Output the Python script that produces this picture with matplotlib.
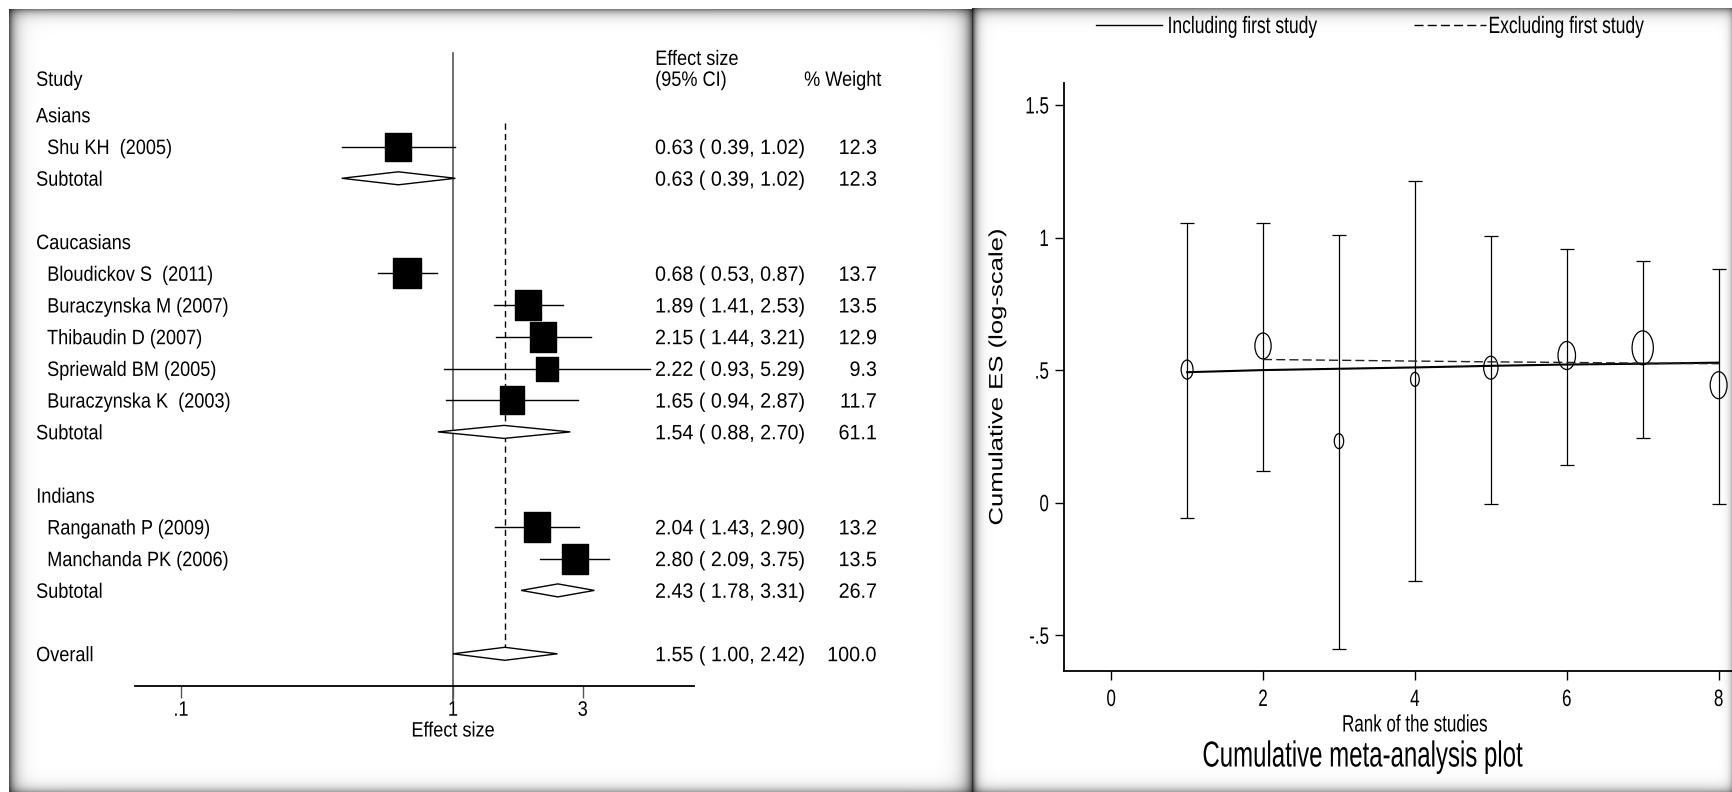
import numpy as np
import matplotlib
matplotlib.use("Agg")
import matplotlib.pyplot as plt
from matplotlib import patheffects
from matplotlib.path import Path
from matplotlib.markers import MarkerStyle
from matplotlib.lines import Line2D
from matplotlib.ticker import NullLocator
from matplotlib.transforms import Affine2D, blended_transform_factory

plt.rcParams["font.family"] = ["Liberation Sans", "DejaVu Sans"]

# forest plot: study-level and pooled odds ratios
groups = ["Asians", "Caucasians", "Indians"]
studies = ["Shu KH  (2005)", "Bloudickov S  (2011)", "Buraczynska M (2007)",
           "Thibaudin D (2007)", "Spriewald BM (2005)", "Buraczynska K  (2003)",
           "Ranganath P (2009)", "Manchanda PK (2006)"]
study_group = [0, 1, 1, 1, 1, 1, 2, 2]
es = [0.63, 0.68, 1.89, 2.15, 2.22, 1.65, 2.04, 2.80]
ci_lo = [0.39, 0.53, 1.41, 1.44, 0.93, 0.94, 1.43, 2.09]
ci_hi = [1.02, 0.87, 2.53, 3.21, 5.29, 2.87, 2.90, 3.75]
weight = [12.3, 13.7, 13.5, 12.9, 9.3, 11.7, 13.2, 13.5]
sub_es = [0.63, 1.54, 2.43]
sub_lo = [0.39, 0.88, 1.78]
sub_hi = [1.02, 2.70, 3.31]
sub_weight = [12.3, 61.1, 26.7]
overall_es, overall_lo, overall_hi, overall_weight = 1.55, 1.00, 2.42, 100.0

# cumulative meta-analysis (log ES by rank)
rank = [1, 2, 3, 4, 5, 6, 7, 8]
cum_es = [0.502, 0.591, 0.232, 0.465, 0.509, 0.555, 0.584, 0.443]
cum_lo = [-0.058, 0.120, -0.551, -0.296, -0.006, 0.141, 0.243, -0.004]
cum_hi = [1.055, 1.055, 1.010, 1.215, 1.006, 0.958, 0.913, 0.883]
cum_marker = [19, 26, 15, 14, 23, 28, 34, 27]
incl_fit = [0.492, 0.500, 0.505, 0.510, 0.516, 0.521, 0.524, 0.528]
excl_rank = [2, 3, 4, 5, 6, 7, 8]
excl_fit = [0.540, 0.537, 0.534, 0.531, 0.529, 0.526, 0.524]

W, H = 1732, 792
SX_LEFT = 0.87   # horizontal squeeze of text, forest panel
SX_NUM = 0.945   # numeric columns of the forest panel
SX_RIGHT = 0.72  # horizontal squeeze of text, cumulative panel


class Squeeze(patheffects.AbstractPathEffect):
    """Draw a text path narrower in x, about its left/centre/right edge."""

    def __init__(self, sx, anchor="center"):
        super().__init__()
        self.sx = sx
        self.anchor = anchor

    def draw_path(self, renderer, gc, tpath, affine, rgbFace=None):
        ext = tpath.get_extents(affine)
        x0 = {"left": ext.x0, "center": 0.5 * (ext.x0 + ext.x1), "right": ext.x1}[self.anchor]
        squeeze = Affine2D().translate(-x0, 0).scale(self.sx, 1).translate(x0, 0)
        renderer.draw_path(gc, tpath, affine + squeeze, rgbFace)


def squeeze(txt, sx, anchor="center"):
    txt.set_path_effects([Squeeze(sx, anchor)])
    return txt


def fx(px):
    return px / W


def fy(py):
    return 1 - py / H


fig = plt.figure(figsize=(W / 100, H / 100), dpi=100)

# panel frames with soft inner shadows
yy, xx = np.mgrid[0:H, 0:W].astype(float)
bg = np.ones((H, W))


def inner_shadow(x0, x1, y0, y1, top, left, right, bottom):
    inside = (xx >= x0) & (xx <= x1) & (yy >= y0) & (yy <= y1)
    shade = np.ones((H, W))
    for (depth, width), dist in [(top, yy - y0), (left, xx - x0),
                                 (right, x1 - xx), (bottom, y1 - yy)]:
        shade *= 1 - depth * np.exp(-np.clip(dist, 0, None) / width)
    bg[inside] = shade[inside]


inner_shadow(9, 971, 9, 791, top=(0.5, 5), left=(0.65, 6), right=(0.6, 7), bottom=(0.35, 5))
inner_shadow(972, 1731, 8, 791, top=(0.5, 5), left=(0.8, 4), right=(0.25, 3), bottom=(0.35, 5))

bg_ax = fig.add_axes([0, 0, 1, 1], zorder=-1)
bg_ax.imshow(bg, cmap="gray", vmin=0, vmax=1, aspect="auto", interpolation="nearest")
bg_ax.axis("off")

# ---------------- forest plot ----------------
ROW0, ROW_PX = 114.9, 31.7
ax1 = fig.add_axes([fx(135), fy(686), fx(694) - fx(135), fy(40) - fy(686)])
ax1.set_facecolor("none")
ax1.set_xscale("log")
ax1.set_xlim(0.0678, 7.69)
ax1.set_ylim((686 - ROW0) / ROW_PX, (40 - ROW0) / ROW_PX)

tx = blended_transform_factory(fig.transFigure, ax1.transData)
FS = 15
TEXT_DROP = 0.06  # rows; puts cap centres on the row line


def put(x_px, row, s, ha="left", sx=SX_LEFT):
    t = ax1.text(fx(x_px), row + TEXT_DROP, s, transform=tx, ha=ha, va="center", fontsize=FS)
    squeeze(t, sx, ha)


box = MarkerStyle(Path([(-1, -1.12), (1, -1.12), (1, 1.12), (-1, 1.12), (-1, -1.12)], closed=True))


def diamond(row, lo, mid, hi):
    ax1.fill([lo, mid, hi, mid], [row, row - 0.205, row, row + 0.205],
             facecolor="white", edgecolor="black", lw=1, zorder=3)


def es_text(e, lo, hi):
    return f"{e:.2f} ({lo:5.2f},{hi:5.2f})"


def stats(row, e, lo, hi, w):
    put(655, row, es_text(e, lo, hi), sx=SX_NUM)
    put(877, row, f"{w:.1f}", ha="right", sx=SX_NUM)


row = 0
for g, gname in enumerate(groups):
    put(36, row, gname)
    row += 1
    for i, sg in enumerate(study_group):
        if sg != g:
            continue
        ax1.plot([ci_lo[i], ci_hi[i]], [row, row], color="black", lw=1, zorder=2)
        ax1.plot(es[i], row, marker=box, ms=0.72 * 8.18 * np.sqrt(weight[i]),
                 color="black", ls="none", zorder=3)
        put(47, row, studies[i])
        stats(row, es[i], ci_lo[i], ci_hi[i], weight[i])
        row += 1
    diamond(row, sub_lo[g], sub_es[g], sub_hi[g])
    put(36, row, "Subtotal")
    stats(row, sub_es[g], sub_lo[g], sub_hi[g], sub_weight[g])
    row += 2

overall_row = row
diamond(overall_row, overall_lo, overall_es, overall_hi)
put(36, overall_row, "Overall")
stats(overall_row, overall_es, overall_lo, overall_hi, overall_weight)

# headers
put(36, -1.15, "Study")
put(655, -1.81, "Effect size")
put(655, -1.15, "(95% CI)")
put(804, -1.15, "% Weight")

# null line (runs down past the axis as the long tick at 1) and pooled estimate
ax1.plot([1, 1], [-1.95, 18.5], color="#555555", lw=1.2, clip_on=False, zorder=1)
ax1.plot([overall_es, overall_es], [0.26, overall_row - 0.2], color="black",
         lw=1, dashes=(4.5, 3), zorder=1)

for s in ["top", "right", "left"]:
    ax1.spines[s].set_visible(False)
ax1.spines["bottom"].set_linewidth(1.3)
ax1.set_xticks([0.1, 1, 3])
ax1.set_xticklabels([".1", "1", "3"])
ax1.xaxis.set_minor_locator(NullLocator())
ax1.set_yticks([])
ax1.tick_params(axis="x", length=8.6, width=1, color="#555555", pad=2, labelsize=FS)
for t in ax1.get_xticklabels():
    squeeze(t, SX_LEFT)
squeeze(ax1.set_xlabel("Effect size", fontsize=FS), SX_LEFT)
ax1.xaxis.set_label_coords((453 - 135) / (694 - 135), -0.055)
ax1.xaxis.label.set_va("top")

# ---------------- cumulative meta-analysis ----------------
FS2 = 17
ax2 = fig.add_axes([fx(1063.7), fy(670.5), 702.4 / W, (670.5 - 82.8) / H])
ax2.set_facecolor("none")
ax2.set_xlim(-0.625, 8.625)
ax2.set_ylim(-0.633, 1.5835)

yerr = [np.subtract(cum_es, cum_lo), np.subtract(cum_hi, cum_es)]
ax2.errorbar(rank, cum_es, yerr=yerr, fmt="none", ecolor="black",
             elinewidth=0.9, capsize=4.7, capthick=0.9, zorder=2)
ring = MarkerStyle(Path.unit_circle().transformed(Affine2D().scale(1 / 1.6, 1)))
ax2.scatter(rank, cum_es, s=(np.array(cum_marker) * 0.72) ** 2, marker=ring,
            facecolors="none", edgecolors="black", linewidths=0.9, zorder=3)
ax2.plot(rank, incl_fit, color="black", lw=1.5, zorder=4)
ax2.plot(excl_rank, excl_fit, color="#222222", lw=1, dashes=(6.5, 3), zorder=4)

for s in ["top", "right"]:
    ax2.spines[s].set_visible(False)
for s in ["left", "bottom"]:
    ax2.spines[s].set_linewidth(1.3)
ax2.set_xticks([0, 2, 4, 6, 8])
ax2.set_yticks([-0.5, 0, 0.5, 1, 1.5])
ax2.set_yticklabels(["-.5", "0", ".5", "1", "1.5"])
ax2.tick_params(length=6.5, width=1, labelsize=FS2)
ax2.tick_params(axis="x", pad=6.8)
ax2.tick_params(axis="y", pad=4)
for t in ax2.get_xticklabels():
    squeeze(t, SX_RIGHT)
for t in ax2.get_yticklabels():
    squeeze(t, SX_RIGHT, "right")

squeeze(ax2.set_xlabel("Rank of the studies", fontsize=FS2, labelpad=2.5), SX_RIGHT)
ylab = ax2.set_ylabel("Cumulative ES (log-scale)", fontsize=18.5)
ax2.yaxis.set_label_coords((997 - 1063.7) / 702.4, 0.5)
ylab.set_va("center")
squeeze(ylab, 0.75)

squeeze(fig.text(fx(1362), fy(757), "Cumulative meta-analysis plot", ha="center",
                 va="center", fontsize=26), 0.665)

fs_px = FS2 * 100 / 72
leg_kw = dict(loc="center left", bbox_transform=fig.transFigure, frameon=False,
              borderpad=0, borderaxespad=0, fontsize=FS2)
leg1 = ax2.legend([Line2D([], [], color="black", lw=1)], ["Including first study"],
                  bbox_to_anchor=(fx(1096), fy(27)), handlelength=66 / fs_px,
                  handletextpad=5 / fs_px, **leg_kw)
ax2.add_artist(leg1)
leg2 = ax2.legend([Line2D([], [], color="black", lw=1, dashes=(6.5, 3))],
                  ["Excluding first study"],
                  bbox_to_anchor=(fx(1414), fy(27)), handlelength=72 / fs_px,
                  handletextpad=2 / fs_px, **leg_kw)
for leg in (leg1, leg2):
    for t in leg.get_texts():
        squeeze(t, 0.74, "left")

fig.savefig("out.png", dpi=100)
